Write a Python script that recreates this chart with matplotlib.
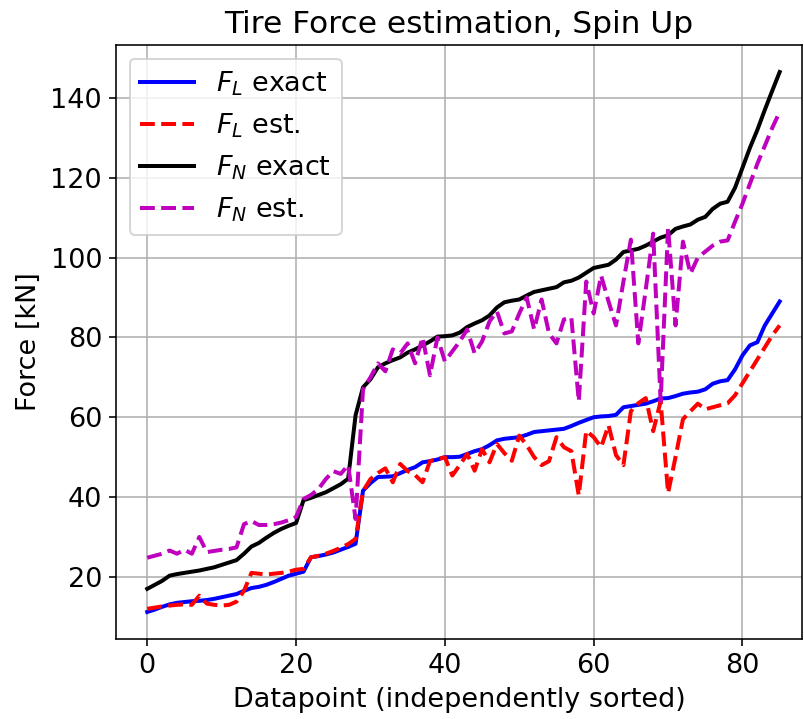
import matplotlib
matplotlib.use("Agg")
import matplotlib.pyplot as plt
import numpy as np

fl_exact = [11.2, 11.8, 12.5, 13.1, 13.5, 13.7, 13.9, 14.0, 14.2, 14.5,
            14.9, 15.3, 15.7, 16.5, 17.2, 17.5, 18.0, 18.7, 19.5, 20.3,
            20.8, 21.3, 24.9, 25.2, 25.6, 26.1, 26.8, 27.5, 28.3, 41.6,
            43.5, 45.0, 45.1, 45.2, 46.0, 46.8, 47.5, 48.7, 49.0, 49.4,
            50.0, 50.0, 50.1, 50.8, 51.5, 52.0, 53.0, 54.2, 54.6, 54.8,
            55.0, 55.6, 56.3, 56.5, 56.7, 56.9, 57.1, 57.8, 58.6, 59.3,
            60.0, 60.2, 60.3, 60.6, 62.5, 62.8, 63.1, 63.4, 64.0, 64.7,
            64.8, 65.3, 65.9, 66.2, 66.4, 67.0, 68.4, 69.0, 69.3, 72.0,
            75.5, 78.0, 78.8, 83.0, 86.0, 89.0]

fl_est = [12.0, 12.3, 12.6, 12.8, 13.0, 13.1, 13.0, 15.3, 13.3, 13.0,
          12.8, 13.0, 13.8, 16.5, 21.0, 20.8, 20.6, 20.8, 21.0, 21.3,
          21.8, 22.0, 24.9, 25.3, 25.8, 26.5, 27.3, 28.2, 29.5, 41.5,
          44.5, 46.0, 47.2, 43.7, 48.3, 46.5, 45.5, 43.7, 49.0, 49.5,
          50.0, 45.4, 48.0, 50.8, 46.6, 52.0, 48.7, 53.3, 51.0, 49.1,
          55.4, 53.0, 50.0, 48.0, 49.0, 55.0, 52.5, 51.5, 40.4, 56.6,
          55.0, 52.5, 58.0, 50.5, 48.0, 61.5, 63.5, 64.8, 56.5, 64.0,
          41.0, 50.0, 59.5, 61.5, 63.4, 62.0, 62.5, 63.0, 63.5, 65.5,
          68.5, 71.5, 74.5, 77.5, 80.5, 83.0]

fn_exact = [17.0, 18.0, 19.0, 20.3, 20.7, 21.0, 21.3, 21.6, 22.0, 22.4,
            23.0, 23.6, 24.2, 25.8, 27.6, 28.5, 29.8, 31.0, 32.0, 32.8,
            33.5, 39.2, 39.8, 40.5, 41.2, 42.2, 43.2, 44.6, 60.5, 67.5,
            69.5, 72.5, 73.5, 74.3, 75.0, 76.2, 77.0, 78.0, 79.0, 80.2,
            80.3, 80.5, 81.2, 82.6, 83.5, 84.3, 85.5, 87.5, 88.8, 89.2,
            89.5, 90.5, 91.4, 91.8, 92.2, 92.6, 93.8, 94.2, 95.0, 96.2,
            97.4, 97.8, 98.2, 99.5, 101.4, 101.8, 102.2, 103.0, 104.0, 105.0,
            105.6, 107.2, 107.8, 108.3, 109.5, 110.2, 112.2, 113.5, 114.0, 117.5,
            122.5, 127.5, 132.0, 137.0, 141.8, 146.5]

fn_est = [24.8, 25.3, 25.8, 26.6, 25.8, 26.8, 25.8, 30.0, 26.2, 26.5,
          26.8, 27.0, 27.4, 33.2, 34.0, 33.0, 33.0, 33.2, 33.6, 34.2,
          35.0, 39.5, 40.5, 42.0, 44.5, 46.5, 45.8, 48.0, 34.5, 67.0,
          70.0, 73.5, 71.5, 77.0, 76.0, 78.5, 73.5, 80.0, 70.5, 80.0,
          74.0, 76.5, 79.0, 82.0, 76.0, 79.0, 84.0, 86.5, 81.0, 81.5,
          86.0, 90.0, 82.0, 89.5, 81.0, 78.5, 84.5, 85.0, 64.0, 94.0,
          86.0, 95.5, 89.0, 83.0, 94.0, 104.5, 78.5, 92.0, 106.0, 64.0,
          107.5, 83.0, 104.0, 96.0, 100.0, 101.5, 103.0, 104.0, 104.3, 109.0,
          113.5, 118.5, 123.5, 128.0, 132.5, 136.5]

x = np.arange(len(fl_exact))

plt.rcParams['font.size'] = 13.5
fig = plt.figure(figsize=(804/144, 719/144), dpi=144)
ax = fig.add_axes([116/804, 1-639/719, (802-116)/804, (639-45)/719])
ax.plot(x, fl_exact, 'b-', lw=2, label=r'$F_L$ exact')
ax.plot(x, fl_est, 'r--', lw=2, label=r'$F_L$ est.')
ax.plot(x, fn_exact, 'k-', lw=2, label=r'$F_N$ exact')
ax.plot(x, fn_est, 'm--', lw=2, label=r'$F_N$ est.')
ax.set_xlim(-4.2, 88.0)
ax.grid(True)
ax.set_xlabel('Datapoint (independently sorted)')
ax.set_ylabel('Force [kN]')
ax.set_title('Tire Force estimation, Spin Up', fontsize=15.6)
ax.legend(loc='upper left')
fig.savefig('out.png', dpi=144)
